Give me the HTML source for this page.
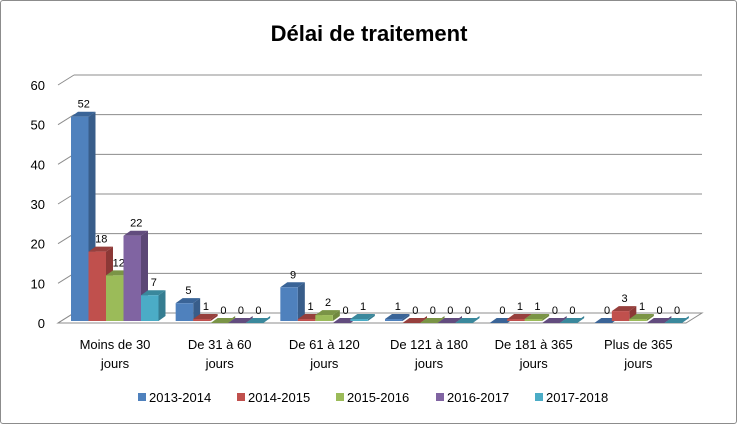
<!DOCTYPE html>
<html><head><meta charset="utf-8"><style>
body{margin:0;background:#fff;font-family:"Liberation Sans",sans-serif}
#wrap{position:absolute;left:0;top:0;width:735px;height:422px;border:1px solid #8c8c8c;border-radius:3px;background:#fff}
text{font-family:"Liberation Sans",sans-serif}
</style></head><body>
<div id="wrap">
<svg id="chart" width="737" height="424"></svg>
</div>
<script>
const categories=[["Moins de 30","jours"],["De 31 à 60","jours"],["De 61 à 120","jours"],["De 121 à 180","jours"],["De 181 à 365","jours"],["Plus de 365","jours"]];
const seriesNames=["2013-2014","2014-2015","2015-2016","2016-2017","2017-2018"];
const s2013=[52,5,9,1,0,0];
const s2014=[18,1,1,0,1,3];
const s2015=[12,0,2,0,1,1];
const s2016=[22,0,0,0,0,0];
const s2017=[7,0,1,0,0,0];
const yTicks=[0,10,20,30,40,50,60];
const series=[s2013,s2014,s2015,s2016,s2017];
const colors=[["#4f81bd","#3a6497","#385d8a"],["#c0504d","#97403d","#8c3836"],["#9bbb59","#7a9446","#71893f"],["#8064a2","#624c7e","#5c4776"],["#4bacc6","#3a889c","#357d91"]];
const svg=document.getElementById('chart');
const NS="http://www.w3.org/2000/svg";
function el(t,a,p){const e=document.createElementNS(NS,t);for(const k in a)e.setAttribute(k,a[k]);(p||svg).appendChild(e);return e;}
const X0=57,X1=685,Y0=322,Y60=84,DX=16,DY=-10;
function y(v){return Y0-(v/60)*(Y0-Y60);}
const groupW=(X1-X0)/categories.length;
function gx(i){return X0+13+i*groupW;}
const BW=17.5,BDX=7,BDY=-5;
// title
let t=el('text',{x:368,y:40,'text-anchor':'middle','font-size':22,'font-weight':'bold',fill:'#000'});
t.textContent="Délai de traitement";

// floor
let f=el('polygon',{points:`${X0},${Y0} ${X1},${Y0} ${X1+DX},${Y0+DY} ${X0+DX},${Y0+DY}`,fill:'#fff',stroke:'#8c8c8c','stroke-width':1});

// gridlines and ticks
yTicks.forEach(v=>{
  const yy=y(v);
  if(v>0){let g=el('line',{x1:X0+DX,y1:yy+DY,x2:X1+DX,y2:yy+DY,stroke:'#8c8c8c','stroke-width':1});
  }
  let d=el('line',{x1:X0,y1:yy,x2:X0+DX,y2:yy+DY,stroke:'#8c8c8c','stroke-width':1});
  
  let l=el('text',{x:44,y:yy+5,'text-anchor':'end','font-size':13,fill:'#000'});
  l.textContent=v;
});
// bars
categories.forEach((c,i)=>{
  series.forEach((s,k)=>{
    const v=s[i],x=gx(i)+k*BW,top=y(v),bot=Y0-2,col=colors[k];
    const g=el('g',{});
    
    el('polygon',{points:`${x+BW},${bot} ${x+BW+BDX},${bot+BDY} ${x+BW+BDX},${top+BDY} ${x+BW},${top}`,fill:col[2]},g);
    el('polygon',{points:`${x},${top} ${x+BW},${top} ${x+BW+BDX},${top+BDY} ${x+BDX},${top+BDY}`,fill:col[1]},g);
    if(bot-top>0.5)el('rect',{x:x,y:top,width:BW,height:bot-top,fill:col[0]},g);
    const lb=el('text',{x:x+BW/2+4,y:top+BDY-4,'text-anchor':'middle','font-size':11,fill:'#000'});
    lb.textContent=v;
  });
  const cx=gx(i)+44;
  c.forEach((line,j)=>{
    const tl=el('text',{x:cx,y:348+j*19,'text-anchor':'middle','font-size':13,fill:'#000'});
    tl.textContent=line;
  });
});
// legend
const lx=[137,236,335,435,534];
seriesNames.forEach((n,k)=>{
  const g=el('g',{});
  
  el('rect',{x:lx[k],y:392,width:8,height:8,fill:colors[k][0]},g);
  const tx=el('text',{x:lx[k]+11,y:401,'font-size':13,fill:'#000'},g);tx.textContent=n;
});
</script>
</body></html>
